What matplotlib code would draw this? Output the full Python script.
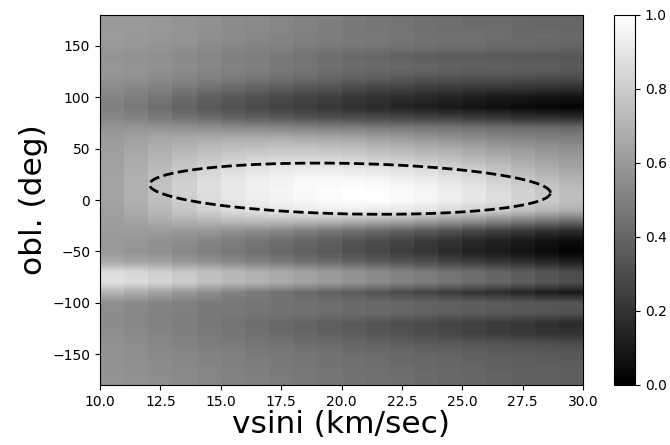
import numpy as np
import matplotlib
matplotlib.use("Agg")
import matplotlib.pyplot as plt

# vsini column left edges (km/sec), 1 km/s wide columns
vsini_edges = list(range(10, 31))
# obliquity rows (deg), top to bottom
obl_rows = list(range(180, -181, -10))

# normalised likelihood, one row per obliquity (top->bottom), 20 vsini columns
z_rows = [
    [0.60, 0.60, 0.60, 0.58, 0.57, 0.55, 0.54, 0.53, 0.51, 0.50, 0.48, 0.46, 0.45, 0.44, 0.43, 0.42, 0.42, 0.41, 0.40, 0.40],  # 180
    [0.60, 0.60, 0.59, 0.58, 0.57, 0.55, 0.54, 0.52, 0.51, 0.49, 0.47, 0.46, 0.45, 0.44, 0.43, 0.42, 0.42, 0.41, 0.40, 0.40],  # 170
    [0.61, 0.60, 0.59, 0.58, 0.56, 0.55, 0.53, 0.52, 0.50, 0.49, 0.48, 0.47, 0.46, 0.45, 0.44, 0.44, 0.43, 0.42, 0.42, 0.41],  # 160
    [0.60, 0.59, 0.58, 0.57, 0.55, 0.53, 0.52, 0.51, 0.49, 0.48, 0.47, 0.46, 0.45, 0.44, 0.43, 0.43, 0.42, 0.42, 0.41, 0.40],  # 150
    [0.58, 0.57, 0.56, 0.54, 0.52, 0.50, 0.49, 0.47, 0.45, 0.43, 0.41, 0.40, 0.38, 0.37, 0.36, 0.36, 0.35, 0.35, 0.34, 0.34],  # 140
    [0.59, 0.58, 0.57, 0.55, 0.53, 0.51, 0.50, 0.48, 0.46, 0.44, 0.43, 0.42, 0.41, 0.40, 0.39, 0.38, 0.38, 0.37, 0.37, 0.36],  # 130
    [0.58, 0.57, 0.55, 0.53, 0.51, 0.49, 0.47, 0.45, 0.43, 0.41, 0.39, 0.38, 0.36, 0.35, 0.34, 0.33, 0.33, 0.32, 0.32, 0.31],  # 120
    [0.55, 0.53, 0.51, 0.48, 0.45, 0.42, 0.40, 0.37, 0.35, 0.33, 0.30, 0.28, 0.27, 0.25, 0.24, 0.23, 0.22, 0.22, 0.21, 0.20],  # 110
    [0.52, 0.49, 0.46, 0.42, 0.38, 0.35, 0.32, 0.29, 0.27, 0.25, 0.22, 0.20, 0.18, 0.16, 0.14, 0.12, 0.10, 0.09, 0.08, 0.07],  # 100
    [0.50, 0.47, 0.43, 0.39, 0.35, 0.32, 0.29, 0.26, 0.24, 0.22, 0.19, 0.17, 0.14, 0.12, 0.10, 0.08, 0.06, 0.04, 0.03, 0.02],  # 90
    [0.53, 0.51, 0.48, 0.45, 0.42, 0.39, 0.37, 0.35, 0.33, 0.31, 0.30, 0.29, 0.28, 0.27, 0.26, 0.24, 0.22, 0.20, 0.19, 0.18],  # 80
    [0.58, 0.58, 0.58, 0.57, 0.56, 0.55, 0.54, 0.53, 0.52, 0.51, 0.50, 0.49, 0.48, 0.47, 0.46, 0.45, 0.44, 0.43, 0.42, 0.42],  # 70
    [0.61, 0.63, 0.65, 0.66, 0.67, 0.68, 0.68, 0.68, 0.67, 0.66, 0.65, 0.63, 0.61, 0.59, 0.57, 0.55, 0.53, 0.52, 0.51, 0.50],  # 60
    [0.62, 0.65, 0.68, 0.71, 0.73, 0.75, 0.76, 0.77, 0.77, 0.76, 0.75, 0.73, 0.71, 0.69, 0.67, 0.65, 0.62, 0.60, 0.58, 0.56],  # 50
    [0.63, 0.67, 0.71, 0.75, 0.78, 0.81, 0.83, 0.84, 0.84, 0.84, 0.83, 0.81, 0.79, 0.77, 0.75, 0.72, 0.69, 0.66, 0.63, 0.61],  # 40
    [0.63, 0.68, 0.73, 0.78, 0.83, 0.86, 0.89, 0.91, 0.92, 0.92, 0.91, 0.90, 0.88, 0.86, 0.83, 0.80, 0.76, 0.72, 0.68, 0.65],  # 30
    [0.64, 0.69, 0.75, 0.81, 0.86, 0.90, 0.93, 0.95, 0.97, 0.97, 0.97, 0.96, 0.94, 0.92, 0.89, 0.86, 0.82, 0.78, 0.74, 0.70],  # 20
    [0.64, 0.69, 0.76, 0.82, 0.87, 0.91, 0.94, 0.96, 0.98, 0.99, 1.00, 0.99, 0.98, 0.96, 0.93, 0.90, 0.86, 0.82, 0.78, 0.74],  # 10
    [0.64, 0.69, 0.75, 0.81, 0.86, 0.90, 0.93, 0.95, 0.97, 0.98, 0.99, 0.99, 0.98, 0.96, 0.93, 0.90, 0.87, 0.83, 0.79, 0.75],  # 0
    [0.63, 0.67, 0.72, 0.77, 0.82, 0.86, 0.89, 0.91, 0.92, 0.93, 0.93, 0.92, 0.91, 0.89, 0.86, 0.83, 0.80, 0.76, 0.72, 0.69],  # -10
    [0.62, 0.64, 0.67, 0.70, 0.72, 0.74, 0.75, 0.75, 0.74, 0.73, 0.71, 0.69, 0.67, 0.64, 0.61, 0.58, 0.54, 0.50, 0.47, 0.44],  # -20
    [0.61, 0.61, 0.61, 0.60, 0.59, 0.57, 0.55, 0.53, 0.50, 0.47, 0.44, 0.41, 0.38, 0.35, 0.32, 0.28, 0.25, 0.22, 0.19, 0.17],  # -30
    [0.60, 0.59, 0.57, 0.55, 0.52, 0.49, 0.46, 0.43, 0.40, 0.37, 0.33, 0.30, 0.27, 0.23, 0.20, 0.16, 0.13, 0.10, 0.07, 0.05],  # -40
    [0.60, 0.58, 0.56, 0.53, 0.50, 0.47, 0.44, 0.41, 0.38, 0.35, 0.31, 0.28, 0.24, 0.21, 0.17, 0.13, 0.10, 0.07, 0.04, 0.01],  # -50
    [0.66, 0.64, 0.62, 0.59, 0.56, 0.53, 0.50, 0.47, 0.44, 0.42, 0.39, 0.36, 0.33, 0.30, 0.27, 0.24, 0.21, 0.18, 0.15, 0.12],  # -60
    [0.86, 0.84, 0.81, 0.78, 0.75, 0.72, 0.69, 0.66, 0.63, 0.60, 0.57, 0.54, 0.51, 0.48, 0.45, 0.42, 0.39, 0.36, 0.33, 0.30],  # -70
    [0.88, 0.86, 0.83, 0.80, 0.76, 0.73, 0.70, 0.67, 0.64, 0.61, 0.58, 0.55, 0.52, 0.49, 0.46, 0.43, 0.40, 0.37, 0.34, 0.31],  # -80
    [0.70, 0.67, 0.63, 0.59, 0.55, 0.51, 0.48, 0.45, 0.42, 0.39, 0.36, 0.33, 0.30, 0.27, 0.24, 0.21, 0.18, 0.15, 0.12, 0.10],  # -90
    [0.56, 0.54, 0.52, 0.50, 0.48, 0.47, 0.46, 0.45, 0.44, 0.43, 0.42, 0.41, 0.40, 0.39, 0.38, 0.37, 0.36, 0.35, 0.34, 0.33],  # -100
    [0.55, 0.53, 0.51, 0.50, 0.48, 0.47, 0.46, 0.45, 0.44, 0.43, 0.42, 0.41, 0.40, 0.38, 0.37, 0.36, 0.35, 0.34, 0.33, 0.32],  # -110
    [0.55, 0.53, 0.51, 0.49, 0.47, 0.45, 0.43, 0.41, 0.39, 0.37, 0.35, 0.33, 0.31, 0.29, 0.27, 0.25, 0.23, 0.21, 0.19, 0.17],  # -120
    [0.56, 0.54, 0.52, 0.50, 0.48, 0.46, 0.44, 0.42, 0.40, 0.38, 0.36, 0.34, 0.32, 0.30, 0.28, 0.26, 0.24, 0.22, 0.21, 0.20],  # -130
    [0.57, 0.55, 0.53, 0.51, 0.49, 0.48, 0.46, 0.45, 0.43, 0.42, 0.40, 0.39, 0.37, 0.36, 0.35, 0.34, 0.33, 0.32, 0.31, 0.30],  # -140
    [0.57, 0.56, 0.54, 0.53, 0.51, 0.50, 0.48, 0.47, 0.46, 0.45, 0.43, 0.42, 0.41, 0.40, 0.39, 0.38, 0.37, 0.36, 0.35, 0.35],  # -150
    [0.57, 0.56, 0.55, 0.53, 0.52, 0.50, 0.49, 0.48, 0.46, 0.45, 0.44, 0.43, 0.42, 0.41, 0.40, 0.39, 0.38, 0.37, 0.37, 0.36],  # -160
    [0.58, 0.57, 0.55, 0.54, 0.52, 0.51, 0.50, 0.48, 0.47, 0.46, 0.45, 0.44, 0.43, 0.42, 0.41, 0.40, 0.39, 0.38, 0.38, 0.37],  # -170
    [0.58, 0.57, 0.56, 0.54, 0.53, 0.51, 0.50, 0.49, 0.47, 0.46, 0.45, 0.44, 0.43, 0.42, 0.41, 0.40, 0.39, 0.38, 0.38, 0.37],  # -180
]

# confidence ellipse (data units): centre, half-width in vsini, half-height and tilt term in obl
ell_center = (20.35, 11.0)
ell_half_vsini = 8.3
ell_half_obl = 24.6
ell_tilt_obl = -4.0

xticks = [10.0, 12.5, 15.0, 17.5, 20.0, 22.5, 25.0, 27.5, 30.0]
yticks = [-150, -100, -50, 0, 50, 100, 150]
cticks = [0.0, 0.2, 0.4, 0.6, 0.8, 1.0]

Z = np.array(z_rows)
half_step = (obl_rows[0] - obl_rows[1]) / 2.0

fig = plt.figure(figsize=(6.7, 4.45), dpi=100)
ax = fig.add_axes([100 / 670, 1 - 385 / 445, 483 / 670, 370 / 445])
cax = fig.add_axes([614 / 670, 1 - 385 / 445, 21 / 670, 370 / 445])

im = None
for j in range(Z.shape[1]):
    im = ax.imshow(Z[:, j:j + 1], cmap="gray", vmin=0, vmax=1,
                   extent=[vsini_edges[j], vsini_edges[j + 1],
                           obl_rows[-1] - half_step, obl_rows[0] + half_step],
                   origin="upper", aspect="auto", interpolation="bilinear")

t = np.linspace(0, 2 * np.pi, 400)
ex = ell_center[0] + ell_half_vsini * np.cos(t)
ey = ell_center[1] + ell_half_obl * np.sin(t) + ell_tilt_obl * np.cos(t)
ax.plot(ex, ey, color="black", linestyle="--", linewidth=2)

ax.set_xlim(vsini_edges[0], vsini_edges[-1])
ax.set_ylim(-180, 180)
ax.set_xticks(xticks)
ax.set_yticks(yticks)
ax.set_xticklabels([f"{v:.1f}" for v in xticks])
ax.tick_params(labelsize=10)
ax.set_xlabel("vsini (km/sec)", fontsize=22.5, labelpad=1)
ax.set_ylabel("obl. (deg)", fontsize=22.5, labelpad=3)

cb = fig.colorbar(im, cax=cax, ticks=cticks)
cb.ax.tick_params(labelsize=10)

fig.savefig("out.png", dpi=100)
